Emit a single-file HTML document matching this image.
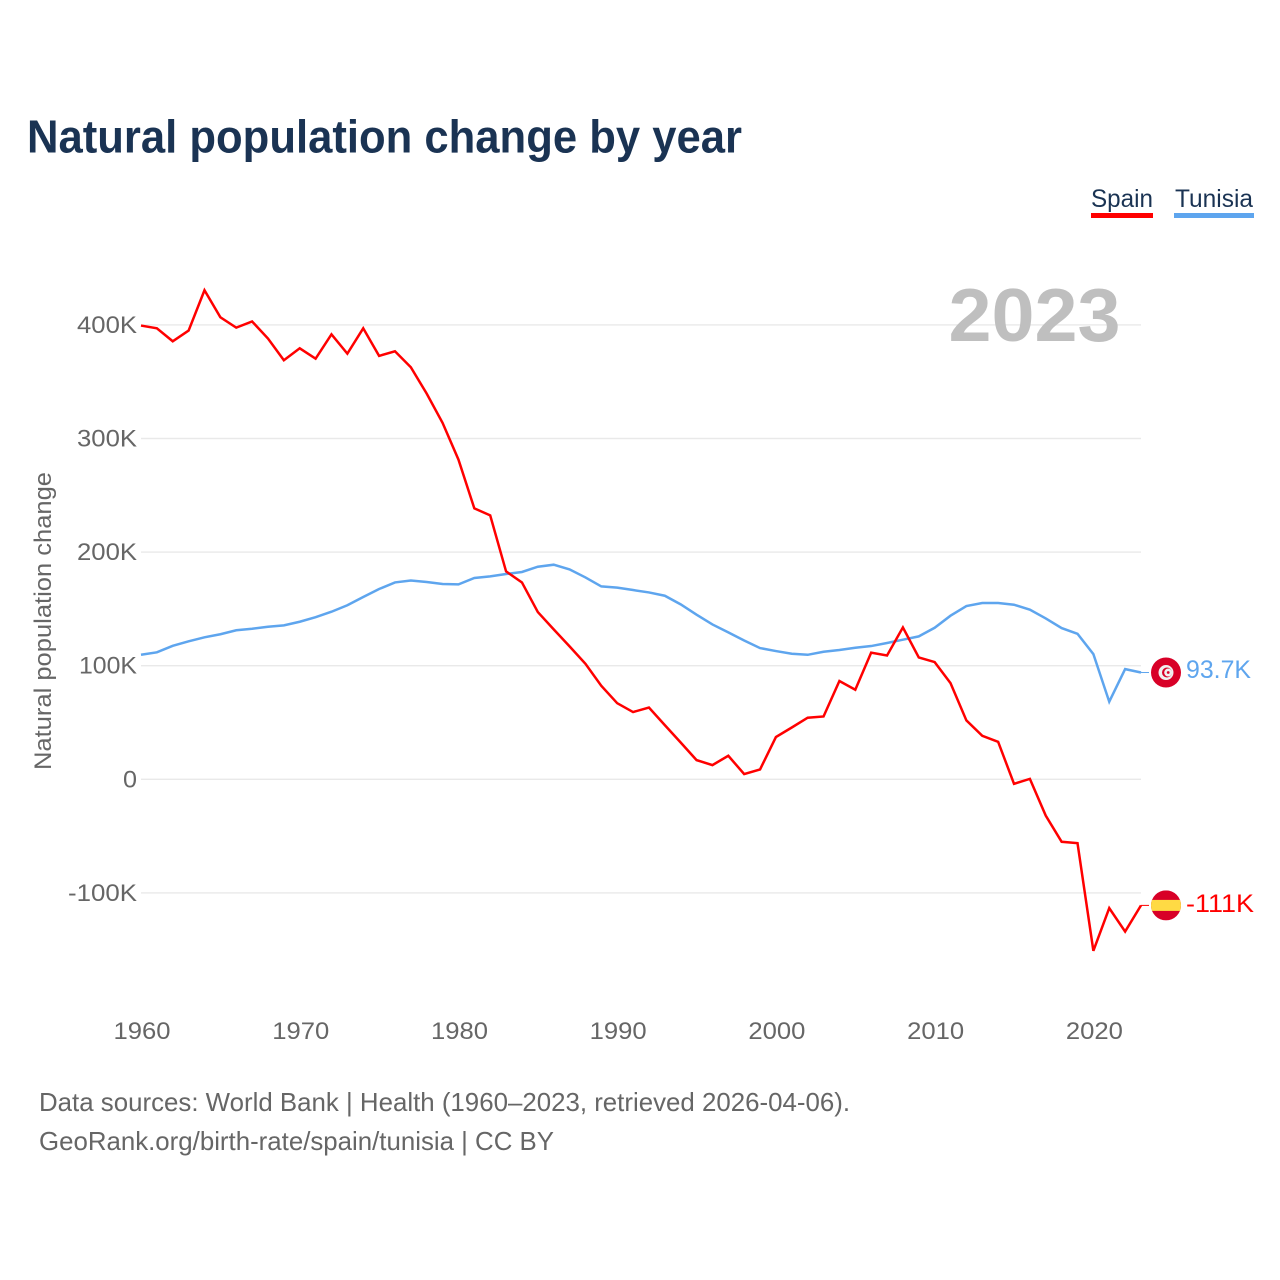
<!DOCTYPE html>
<html lang="en">
<head>
<meta charset="utf-8">
<title>Natural population change by year</title>
<style>
html,body{margin:0;padding:0;background:#fff;width:1280px;height:1280px;overflow:hidden}
svg{display:block;font-family:"Liberation Sans",sans-serif}
</style>
</head>
<body>
<svg id="chart" width="1280" height="1280" viewBox="0 0 1280 1280" xmlns="http://www.w3.org/2000/svg">
  <rect width="1280" height="1280" fill="#fff"/>
  <text x="27" y="152.5" font-size="46" font-weight="700" fill="#1a3353" textLength="715" lengthAdjust="spacingAndGlyphs">Natural population change by year</text>
  <g>
    <text x="1091" y="207" font-size="25" fill="#1a3353" textLength="62" lengthAdjust="spacingAndGlyphs">Spain</text>
    <rect x="1091" y="213" width="62" height="5" fill="#ff0000"/>
  </g>
  <g>
    <text x="1175" y="207" font-size="25" fill="#1a3353" textLength="78" lengthAdjust="spacingAndGlyphs">Tunisia</text>
    <rect x="1174" y="213" width="80" height="5" fill="#5ea5ee"/>
  </g>
  <text transform="translate(51,621) rotate(-90)" text-anchor="middle" font-size="24" fill="#666" textLength="298" lengthAdjust="spacingAndGlyphs">Natural population change</text>
  <g id="grid"></g>
  <g id="yticks"></g>
  <g id="xticks"></g>
  <text x="948.5" y="341" font-size="75" font-weight="700" fill="#bfbfbf" textLength="172" lengthAdjust="spacingAndGlyphs">2023</text>
  <g id="series"></g>
  <g id="ends"></g>
  <text x="39" y="1111" font-size="26" fill="#666" textLength="811" lengthAdjust="spacingAndGlyphs">Data sources: World Bank | Health (1960–2023, retrieved 2026-04-06).</text>
  <text x="39" y="1150" font-size="26" fill="#666" textLength="515" lengthAdjust="spacingAndGlyphs">GeoRank.org/birth-rate/spain/tunisia | CC BY</text>
</svg>
<script>
const years = [1960,1961,1962,1963,1964,1965,1966,1967,1968,1969,1970,1971,1972,1973,1974,1975,1976,1977,1978,1979,1980,1981,1982,1983,1984,1985,1986,1987,1988,1989,1990,1991,1992,1993,1994,1995,1996,1997,1998,1999,2000,2001,2002,2003,2004,2005,2006,2007,2008,2009,2010,2011,2012,2013,2014,2015,2016,2017,2018,2019,2020,2021,2022,2023];
const spainValues = [399.4,397,385.6,395,430.5,406.7,397.6,403,388,368.9,379.4,370.3,391.7,374.7,397,372.7,376.8,362.7,339.5,313.7,281.4,238.5,232.3,183,173.3,147.2,132,117,101.7,82.3,67,59.2,63.2,47.7,32.4,16.9,12.5,20.7,4.6,8.7,37.2,45.6,54.2,55.3,86.5,78.8,111.5,109,133.7,107.3,103.2,84.7,51.8,38.3,33,-4,0.4,-32,-55,-56.2,-151,-113.4,-134,-111];
const tunisiaValues = [109.6,111.8,117.5,121.5,125,127.7,131.2,132.5,134.3,135.5,138.7,142.7,147.5,153.2,160.5,167.5,173.3,175,173.7,171.9,171.6,177.2,178.6,180.7,182.5,187.1,188.9,184.8,177.7,169.8,168.7,166.6,164.5,161.6,154,144.9,136.3,129.3,122.2,115.5,112.9,110.5,109.6,112.3,113.8,115.8,117.3,120,122.9,125.8,133.4,144,152.5,155.2,155.2,153.7,149.3,141.6,133.1,128.1,110.2,68.3,97,94];
const yTickValues = [-100,0,100,200,300,400];
const yTickLabels = ["-100K","0","100K","200K","300K","400K"];
const xTickValues = [1960,1970,1980,1990,2000,2010,2020];
const xTickLabels = ["1960","1970","1980","1990","2000","2010","2020"];
const endLabels = ["-111K","93.7K"];

const NS = "http://www.w3.org/2000/svg";
const xScale = yr => 141 + (yr - 1960) * (1000 / 63);
const yScale = v => 779.3 - v * 1.136;
function make(tag, parent, attrs) {
  const el = document.createElementNS(NS, tag);
  for (const k in attrs) el.setAttribute(k, attrs[k]);
  parent.appendChild(el);
  return el;
}
const gridG = document.getElementById('grid');
const yG = document.getElementById('yticks');
const xG = document.getElementById('xticks');
const seriesG = document.getElementById('series');
const endG = document.getElementById('ends');

yTickValues.forEach((v, i) => {
  const line = make('line', gridG, {x1: 141, x2: 1141, y1: yScale(v), y2: yScale(v), stroke: '#e9e9e9', 'stroke-width': 1.4});
  
  
  const label = yTickLabels[i];
  const w = label === '0' ? 14 : (label.length === 5 ? 69 : (label === '100K' ? 58 : 60));
  const t = make('text', yG, {x: 137 - w, y: yScale(v) + 8, 'font-size': 24, fill: '#666', textLength: w, lengthAdjust: 'spacingAndGlyphs'});
  t.textContent = label;
  
  
});

xTickValues.forEach((yr, i) => {
  const t = make('text', xG, {x: xScale(yr) - 27.5, y: 1039, 'font-size': 24, fill: '#666', textLength: 57, lengthAdjust: 'spacingAndGlyphs'});
  t.textContent = xTickLabels[i];
  
  
});

function pathFor(values) {
  return values.map((v, i) => (i ? 'L' : 'M') + xScale(years[i]).toFixed(2) + ' ' + yScale(v).toFixed(2)).join('');
}
const tunisiaLine = make('path', seriesG, {d: pathFor(tunisiaValues), fill: 'none', stroke: '#5ea5ee', 'stroke-width': 2.5, 'stroke-linejoin': 'miter'});


const spainLine = make('path', seriesG, {d: pathFor(spainValues), fill: 'none', stroke: '#ff0000', 'stroke-width': 2.5, 'stroke-linejoin': 'miter'});



const lastX = xScale(years[years.length - 1]);
const spainY = yScale(spainValues[spainValues.length - 1]);
const tunisiaY = yScale(tunisiaValues[tunisiaValues.length - 1]);
const flagX = 1166;

const conT = make('line', endG, {x1: lastX, x2: lastX + 8, y1: tunisiaY, y2: tunisiaY, stroke: '#5ea5ee', 'stroke-width': 1});


const conS = make('line', endG, {x1: lastX, x2: lastX + 8, y1: spainY, y2: spainY, stroke: '#ff0000', 'stroke-width': 1});



/* Tunisia flag */
const flagT = make('g', endG, {});


make('circle', flagT, {cx: flagX, cy: tunisiaY, r: 15, fill: '#d80027'});
make('circle', flagT, {cx: flagX, cy: tunisiaY, r: 7.5, fill: '#f0f0f0'});
make('circle', flagT, {cx: flagX + 1, cy: tunisiaY, r: 5, fill: '#d80027'});
make('circle', flagT, {cx: flagX + 2.2, cy: tunisiaY, r: 4, fill: '#f0f0f0'});
make('circle', flagT, {cx: flagX + 2.2, cy: tunisiaY, r: 1.4, fill: '#d80027'});

/* Spain flag */
const clip = make('clipPath', endG, {id: 'spain-clip'});
make('circle', clip, {cx: flagX, cy: spainY, r: 15});
const flagS = make('g', endG, {'clip-path': 'url(#spain-clip)'});


make('rect', flagS, {x: flagX - 15, y: spainY - 15, width: 30, height: 30, fill: '#d80027'});
make('rect', flagS, {x: flagX - 15, y: spainY - 5.5, width: 30, height: 11, fill: '#ffda44'});

const labelS = make('text', endG, {x: 1186, y: spainY + 6.5, 'font-size': 25, fill: '#ff0000', textLength: 68, lengthAdjust: 'spacingAndGlyphs'});
labelS.textContent = endLabels[0];


const labelT = make('text', endG, {x: 1186, y: tunisiaY + 5.5, 'font-size': 25, fill: '#5ea5ee', textLength: 65, lengthAdjust: 'spacingAndGlyphs'});
labelT.textContent = endLabels[1];


</script>
</body>
</html>
